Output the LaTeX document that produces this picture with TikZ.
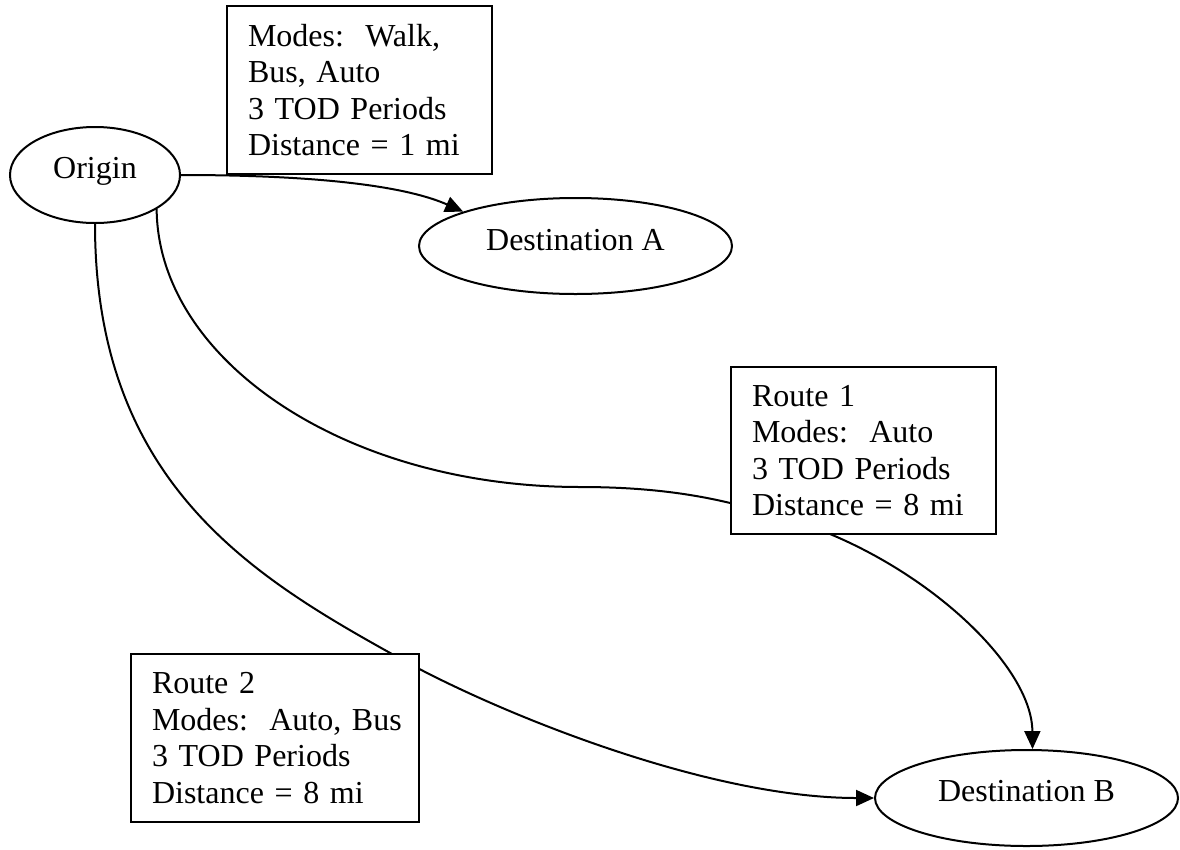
\documentclass[tikz,border=0pt]{standalone}
\usepackage{fontspec}
\setmainfont{Liberation Serif}
\usetikzlibrary{arrows.meta,shapes.geometric}
\begin{document}
\begin{tikzpicture}[
  x=1pt, y=-1pt, line width=2pt,
  lbl/.style={font=\fontsize{32}{36.6}\selectfont},
  place/.style={draw, ellipse, lbl, inner sep=0pt, minimum height=96pt, text height=21pt},
  infobox/.style={draw, fill=white, rectangle, lbl, align=left, inner xsep=21pt, inner ysep=0pt},
  link/.style={-{Triangle[length=18pt,width=16pt]}}
]
\useasboundingbox (0,0) rectangle (1180,849);

% places
\node[place, minimum width=170pt, text depth=15pt] (O) at (95,175) {Origin};
\node[place, minimum width=313pt, text depth=12pt] (A) at (575.5,246) {Destination A};
\node[place, minimum width=303pt, text depth=15pt] (B) at (1026.5,798) {Destination B};

% connectors
\draw[link] (O.east) .. controls (330,175) and (410,188) .. (A.163);
\draw[link] (O.-29.5) .. controls (158,360) and (345,487) .. (580,487)
   .. controls (700,487) and (760,510) .. (830,534)
   .. controls (940,580) and (1032,670) .. (B.83.5);
\draw[link] (O.south) .. controls (95,480) and (250,575) .. (392,654)
   .. controls (480,705) and (700,798) .. (B.west);

% info boxes
\node[infobox, text width=223pt, minimum height=168pt] (M) at (359.5,90)
  {Modes:~~Walk,\\Bus, Auto\\3 TOD Periods\\Distance = 1 mi};
\node[infobox, text width=223pt, minimum height=167pt] (R1) at (863.5,450.5)
  {Route 1\\Modes:~~Auto\\3 TOD Periods\\Distance = 8 mi};
\node[infobox, text width=246pt, minimum height=168pt] (R2) at (275,738)
  {Route 2\\Modes:~~Auto,~Bus\\3 TOD Periods\\Distance = 8 mi};
\end{tikzpicture}
\end{document}
